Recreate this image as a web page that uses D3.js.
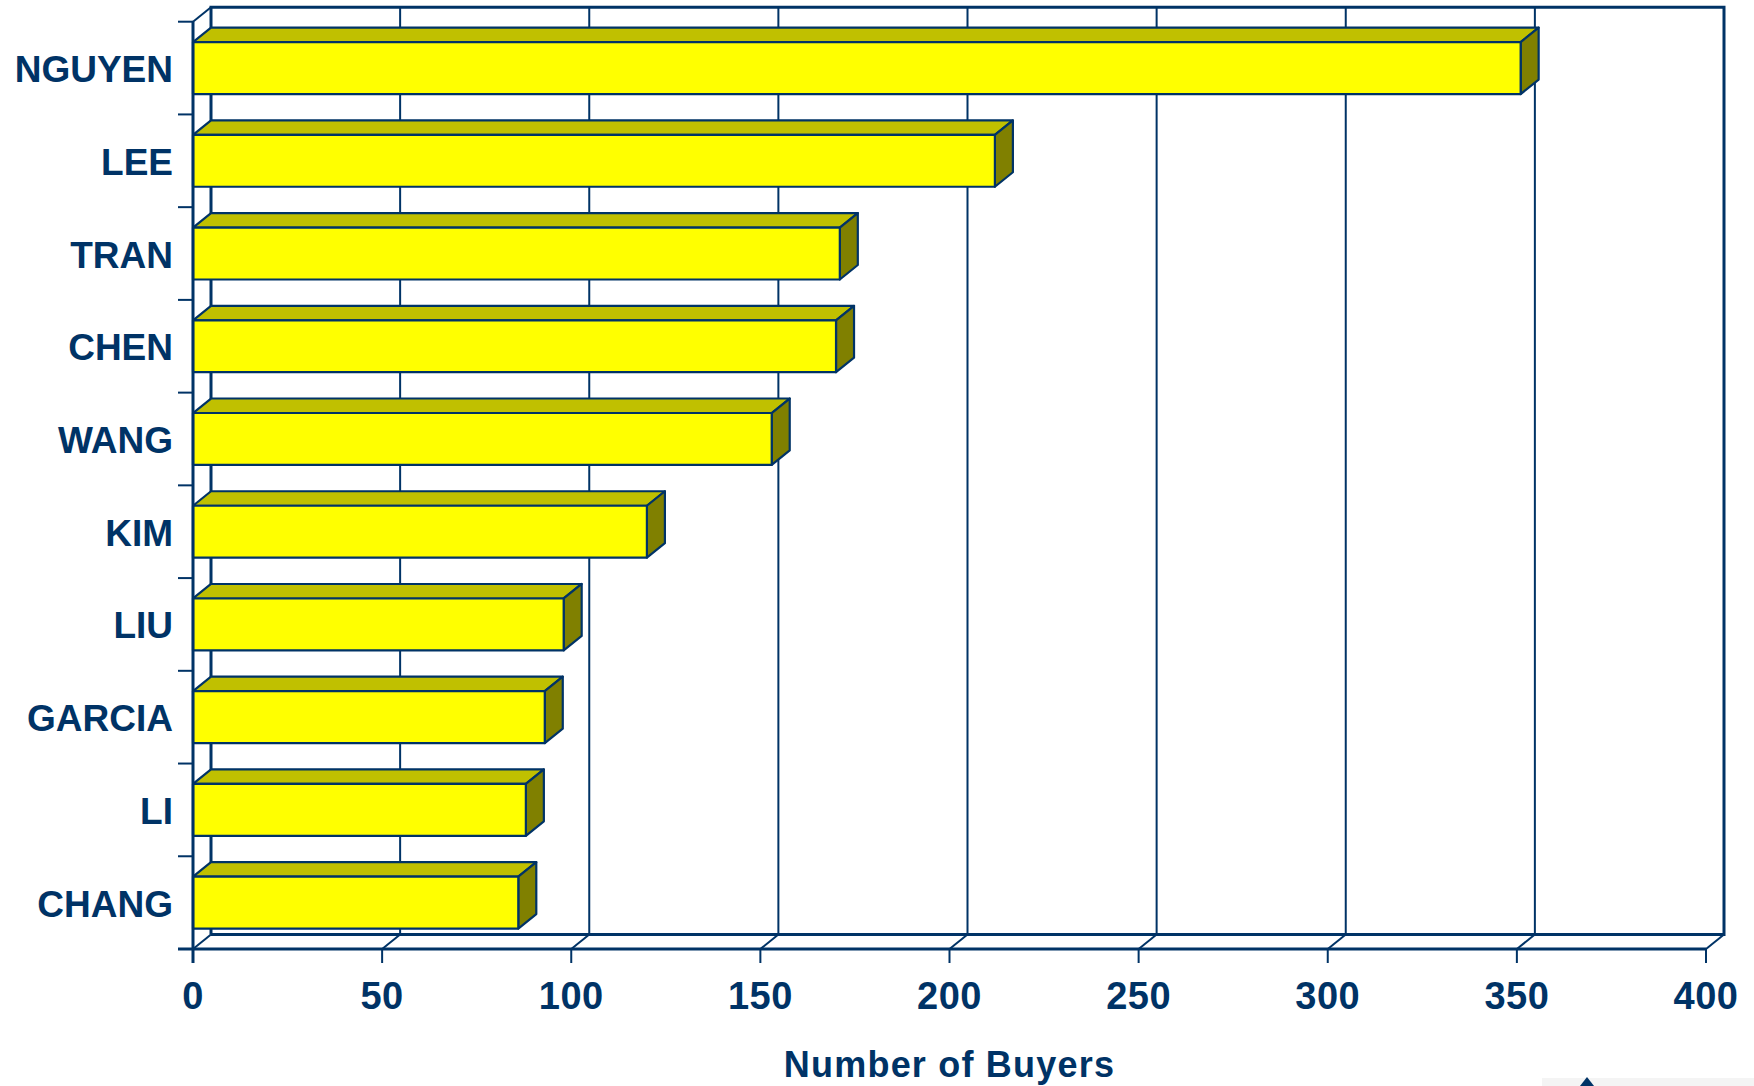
<!DOCTYPE html>
<html>
<head>
<meta charset="utf-8">
<script src="https://cdn.jsdelivr.net/npm/d3@7"></script>
<style>
  body { margin: 0; background: #fff; }
  text { font-family: "Liberation Sans", Arial, sans-serif; font-weight: bold; fill: #003366; }
</style>
</head>
<body>
<div id="chart"></div>
<script>
var names = ["NGUYEN", "LEE", "TRAN", "CHEN", "WANG", "KIM", "LIU", "GARCIA", "LI", "CHANG"];
var buyers = [351, 212, 171, 170, 153, 120, 98, 93, 88, 86];
var xTicks = [0, 50, 100, 150, 200, 250, 300, 350, 400];

var w = 1754, h = 1086;
var navy = "#003366";
var dx = 18, dy = 14.5;   // depth of the 3d box

var svg = d3.select("#chart")
    .append("svg")
    .attr("width", w)
    .attr("height", h);

var x = d3.scaleLinear()
    .domain([0, 400])
    .range([193, 1706]);

var y = d3.scaleBand()
    .domain(names)
    .range([21.7, 949])
    .padding(0);

var yTop = y.range()[0], yBot = y.range()[1];
var xLeft = x(0), xRight = x(400);

// back wall + floor
var back = svg.append("g")
    .attr("stroke", navy)
    .attr("fill", "none");

back.append("path")
    .attr("stroke-width", 3)
    .attr("d", "M" + (xLeft + dx) + "," + (yBot - dy) + "V" + (yTop - dy) + "H" + (xRight + dx) + "V" + (yBot - dy) + "H" + (xLeft + dx));

back.selectAll(".grid")
    .data(xTicks.slice(1, -1))
    .enter()
    .append("line")
    .attr("class", "grid")
    .attr("stroke-width", 2)
    .attr("x1", function (d) { return x(d) + dx; })
    .attr("x2", function (d) { return x(d) + dx; })
    .attr("y1", yTop - dy)
    .attr("y2", yBot - dy);

back.selectAll(".floor")
    .data(xTicks)
    .enter()
    .append("line")
    .attr("class", "floor")
    .attr("stroke-width", 2)
    .attr("x1", function (d) { return x(d); })
    .attr("x2", function (d) { return x(d) + dx; })
    .attr("y1", yBot)
    .attr("y2", yBot - dy);

back.append("line")
    .attr("stroke-width", 2)
    .attr("x1", xLeft).attr("y1", yTop)
    .attr("x2", xLeft + dx).attr("y2", yTop - dy);

// bars
var barH = y.bandwidth() * 0.56;
var off = (y.bandwidth() - barH) / 2;

var bar = svg.selectAll(".bar")
    .data(names.map(function (n, i) { return { name: n, value: buyers[i] }; }))
    .enter()
    .append("g")
    .attr("class", "bar")
    .attr("stroke", navy)
    .attr("stroke-width", 2.2)
    .attr("stroke-linejoin", "round");

bar.append("path")
    .attr("fill", "#C0C000")
    .attr("d", function (d) {
        var y0 = y(d.name) + off, x1 = x(d.value);
        return "M" + xLeft + "," + y0 + "L" + (xLeft + dx) + "," + (y0 - dy) +
            "H" + (x1 + dx) + "L" + x1 + "," + y0 + "Z";
    });

bar.append("path")
    .attr("fill", "#808000")
    .attr("d", function (d) {
        var y0 = y(d.name) + off, x1 = x(d.value);
        return "M" + x1 + "," + y0 + "L" + (x1 + dx) + "," + (y0 - dy) +
            "V" + (y0 + barH - dy) + "L" + x1 + "," + (y0 + barH) + "Z";
    });

bar.append("rect")
    .attr("fill", "#FFFF00")
    .attr("x", xLeft)
    .attr("y", function (d) { return y(d.name) + off; })
    .attr("width", function (d) { return x(d.value) - xLeft; })
    .attr("height", barH);

// front axes
var front = svg.append("g")
    .attr("stroke", navy)
    .attr("stroke-width", 3);

front.append("line")
    .attr("x1", xLeft).attr("x2", xLeft)
    .attr("y1", yTop).attr("y2", yBot + 14);

front.append("line")
    .attr("x1", xLeft - 15).attr("x2", xRight)
    .attr("y1", yBot).attr("y2", yBot);

front.selectAll(".ytick")
    .data(names.map(function (n) { return y(n); }).concat([yBot]))
    .enter()
    .append("line")
    .attr("stroke-width", 2)
    .attr("x1", xLeft - 15).attr("x2", xLeft)
    .attr("y1", function (d) { return d; })
    .attr("y2", function (d) { return d; });

front.selectAll(".xtick")
    .data(xTicks)
    .enter()
    .append("line")
    .attr("stroke-width", 2)
    .attr("x1", function (d) { return x(d); })
    .attr("x2", function (d) { return x(d); })
    .attr("y1", yBot)
    .attr("y2", yBot + 14);

// labels
svg.selectAll(".cat")
    .data(names)
    .enter()
    .append("text")
    .attr("class", "cat")
    .attr("x", 173)
    .attr("y", function (d) { return y(d) + y.bandwidth() / 2 + 14; })
    .attr("text-anchor", "end")
    .attr("font-size", "37px")
    .text(function (d) { return d; });

svg.selectAll(".xlab")
    .data(xTicks)
    .enter()
    .append("text")
    .attr("class", "xlab")
    .attr("x", function (d) { return x(d); })
    .attr("y", 1009)
    .attr("text-anchor", "middle")
    .attr("font-size", "38px")
    .attr("letter-spacing", "0.5px")
    .text(function (d) { return d; });

svg.append("text")
    .attr("x", (xLeft + xRight) / 2)
    .attr("y", 1077)
    .attr("text-anchor", "middle")
    .attr("font-size", "36px")
    .attr("letter-spacing", "1.2px")
    .text("Number of Buyers");

// corner of a cut-off logo, bottom right
svg.append("rect")
    .attr("x", 1542).attr("y", 1078)
    .attr("width", 212).attr("height", 8)
    .attr("fill", "#f4f4f4");
svg.append("path")
    .attr("d", "M1580,1086L1587,1077L1594,1086Z")
    .attr("fill", navy);
</script>
</body>
</html>
